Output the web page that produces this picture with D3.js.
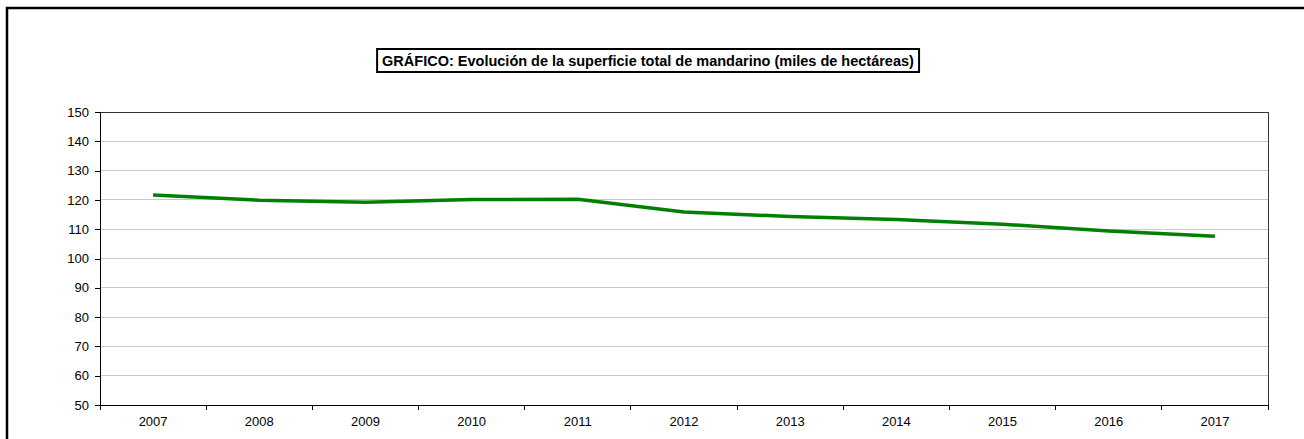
<!DOCTYPE html>
<html><head><meta charset="utf-8">
<script src="https://cdn.jsdelivr.net/npm/d3@7"></script>
<style>html,body{margin:0;padding:0;background:#fff;}svg{display:block;}</style>
</head><body>
<svg id="chart" width="1304" height="439"></svg>
<script>
const years = ["2007","2008","2009","2010","2011","2012","2013","2014","2015","2016","2017"];
const superficie = [121.7, 119.9, 119.2, 120.1, 120.2, 115.9, 114.3, 113.3, 111.7, 109.4, 107.6];
const yTicks = [50,60,70,80,90,100,110,120,130,140,150];
const titleText = "GRÁFICO: Evolución de la superficie total de mandarino (miles de hectáreas)";

const svg = d3.select("#chart");
const font = "Liberation Sans, Arial, sans-serif";
const m = {left:100, right:1268, top:112, bottom:405};

// outer frame
svg.append("rect").attr("x",7).attr("y",8).attr("width",1310).attr("height",450)
  .attr("fill","#fff").attr("stroke","#000").attr("stroke-width",2.5);

const x = d3.scaleBand().domain(years).range([m.left,m.right]).padding(0);
const y = d3.scaleLinear().domain([50,150]).range([m.bottom,m.top]);

// gridlines
svg.append("g").selectAll("line").data(yTicks.filter(t=>t>50 && t<150)).join("line")
  .attr("x1",m.left).attr("x2",m.right).attr("y1",d=>y(d)).attr("y2",d=>y(d))
  .attr("stroke","#c8c8c8").attr("stroke-width",1).attr("shape-rendering","crispEdges");

// plot border
svg.append("rect").attr("x",m.left).attr("y",m.top).attr("width",m.right-m.left).attr("height",m.bottom-m.top)
  .attr("fill","none").attr("stroke","#333").attr("stroke-width",1).attr("shape-rendering","crispEdges");

// y axis
const yAxis = svg.append("g").attr("transform",`translate(${m.left},0)`)
  .call(d3.axisLeft(y).tickValues(yTicks).tickSize(5).tickPadding(6));
yAxis.selectAll("text").attr("font-family",font).attr("font-size",13).attr("fill","#000");
yAxis.selectAll("line,path").attr("stroke","#000").attr("shape-rendering","crispEdges");
yAxis.select("path").attr("d",`M0,${m.top}V${m.bottom}`);

// x axis
const xAxis = svg.append("g").attr("transform",`translate(0,${m.bottom})`)
  .call(d3.axisBottom(x).tickSize(0).tickPadding(12));
xAxis.selectAll("text").attr("font-family",font).attr("font-size",13).attr("fill","#000");
xAxis.select("path").attr("d",`M${m.left},0H${m.right}`).attr("stroke","#000").attr("shape-rendering","crispEdges");
const bounds = years.map(d=>x(d)).concat([x(years[years.length-1])+x.bandwidth()]);
xAxis.selectAll("line.tb").data(bounds).join("line").attr("class","tb")
  .attr("x1",d=>d).attr("x2",d=>d).attr("y1",0).attr("y2",5)
  .attr("stroke","#000").attr("shape-rendering","crispEdges");

// line
const line = d3.line().x((d,i)=>x(years[i])+x.bandwidth()/2).y(d=>y(d));
svg.append("path").datum(superficie).attr("d",line)
  .attr("fill","none").attr("stroke","#008000").attr("stroke-width",3.5)
  .attr("stroke-linejoin","round");

// title
const tg = svg.append("g");
const tt = tg.append("text").attr("x",648).attr("y",65.5).attr("text-anchor","middle")
  .attr("font-family",font).attr("font-size",14.5).attr("font-weight","bold").text(titleText);
const bb = tt.node().getBBox();
tg.insert("rect","text").attr("x",bb.x-5).attr("y",49).attr("width",bb.width+10).attr("height",23)
  .attr("fill","#fff").attr("stroke","#000").attr("stroke-width",2);
</script>
</body></html>
